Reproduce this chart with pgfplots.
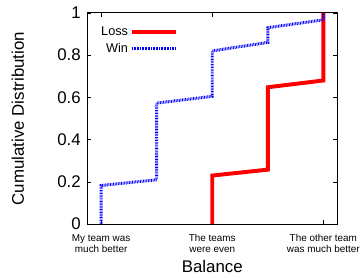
\documentclass[border=0pt]{standalone}
\usepackage{pgfplots}
\pgfplotsset{compat=1.18}
\usepackage{fontspec}
\setmainfont{Liberation Sans}
\begin{document}
\begin{tikzpicture}
\begin{axis}[
  name=ax,
  scale only axis, width=252pt, height=213pt,
  xmin=0.75, xmax=5.25, ymin=0, ymax=1,
  xtick={1,3,5},
  xticklabels={My team was\\much better, The teams\\were even, The other team\\was much better},
  xticklabel style={align=center, font=\fontsize{10}{11}\selectfont, yshift=-7pt},
  ytick={0,0.2,0.4,0.6,0.8,1},
  yticklabels={0,0.2,0.4,0.6,0.8,1},
  yticklabel style={font=\fontsize{17}{20}\selectfont, xshift=-3pt},
  tick align=inside, tick style={black, line width=0.7pt}, major tick length=4pt,
  axis line style={line width=0.9pt},
  xlabel={Balance}, ylabel={Cumulative Distribution},
  xlabel style={font=\fontsize{17}{20}\selectfont, at={(axis description cs:0.5,-0.2)}, anchor=center},
  ylabel style={font=\fontsize{17}{20}\selectfont, at={(axis description cs:-0.278,0.5)}, anchor=center},
  legend style={draw=none, fill=none, font=\fontsize{12.8}{14}\selectfont, at={(axis description cs:0.047,0.945)}, anchor=north west, row sep=2pt, inner sep=0pt},
  legend cell align=right,
  legend plot pos=right,
  legend image code/.code={\draw[#1] (0pt,0pt) -- (44pt,0pt);},
  clip=false,
]
\addplot[red, line width=4pt] coordinates {
  (3,0) (3,0.23) (4,0.258) (4,0.648) (5,0.68) (5,1)
};
\addlegendentry{Loss}
\addplot[blue, line width=3pt, dash pattern=on 0.8pt off 0.8pt] coordinates {
  (1,0) (1,0.183) (2,0.21) (2,0.573) (3,0.605) (3,0.82) (4,0.86) (4,0.93) (5,0.967) (5,1)
};
\addlegendentry{Win}
\end{axis}
\pgfresetboundingbox
\path ([shift={(-88pt,-54pt)}]ax.south west) rectangle ([shift={(25pt,13pt)}]ax.north east);
\end{tikzpicture}
\end{document}
